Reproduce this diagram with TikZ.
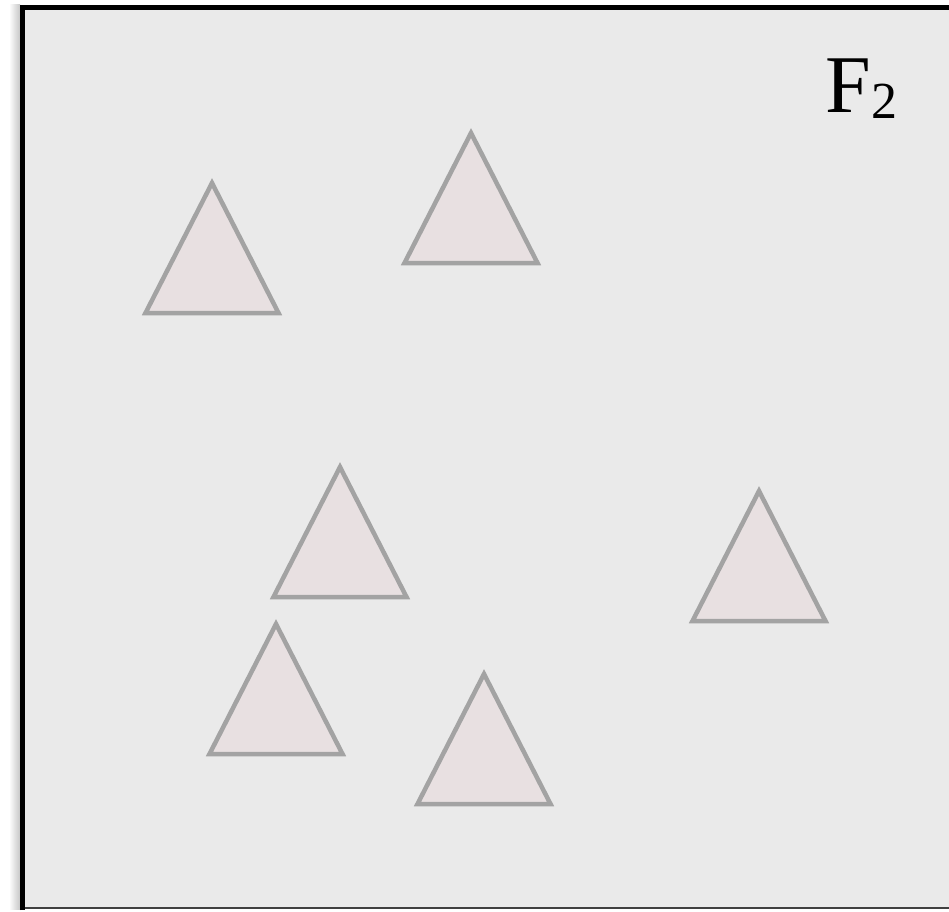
\documentclass[tikz,border=0pt]{standalone}
\usepackage{fontspec}
\setmainfont{Liberation Serif}
\usetikzlibrary{calc}
\definecolor{panelbg}{HTML}{EAEAEA}
\definecolor{trifill}{HTML}{E8E0E1}
\definecolor{triline}{HTML}{A3A3A3}
\begin{document}
\begin{tikzpicture}[x=1pt,y=-1pt,
  tri/.style={draw=triline,fill=trifill,line width=4.5pt,line join=miter},
  frame/.style={draw=black,line width=5pt},
  lbl/.style={anchor=base west,inner sep=0pt,font=\fontsize{82}{90}\selectfont}]
\useasboundingbox (0,0) rectangle (949,911);
\clip (0,0) rectangle (949,911);
% panel with its shadow
\coordinate (tl) at (22.5,7);
\coordinate (bl) at (22.5,908);
\coordinate (br) at (960,908);
\coordinate (tr) at (960,7);
\shade[left color=white,right color=black!22] (9,4) rectangle (20,909);
\fill[panelbg] (tl) rectangle (br);
\draw[black!75,line width=2pt] (bl) -- (br);
\draw[frame] (22.5,910) -- (tl) -- (tr);
\node[lbl] (name) at (825,112) {F\kern1pt\raisebox{-6pt}{\fontsize{52}{56}\selectfont 2}};
% triangles, apex given
\foreach \t/\ax/\ay in {ta/212/183,tb/471/133,tc/340/467,td/759/491,te/276/624,tf/484/674}{
  \coordinate (\t) at (\ax,\ay);
  \draw[tri] (\t) -- ++(-66.5,130) -- ++(133,0) -- cycle;
}
\end{tikzpicture}
\end{document}
